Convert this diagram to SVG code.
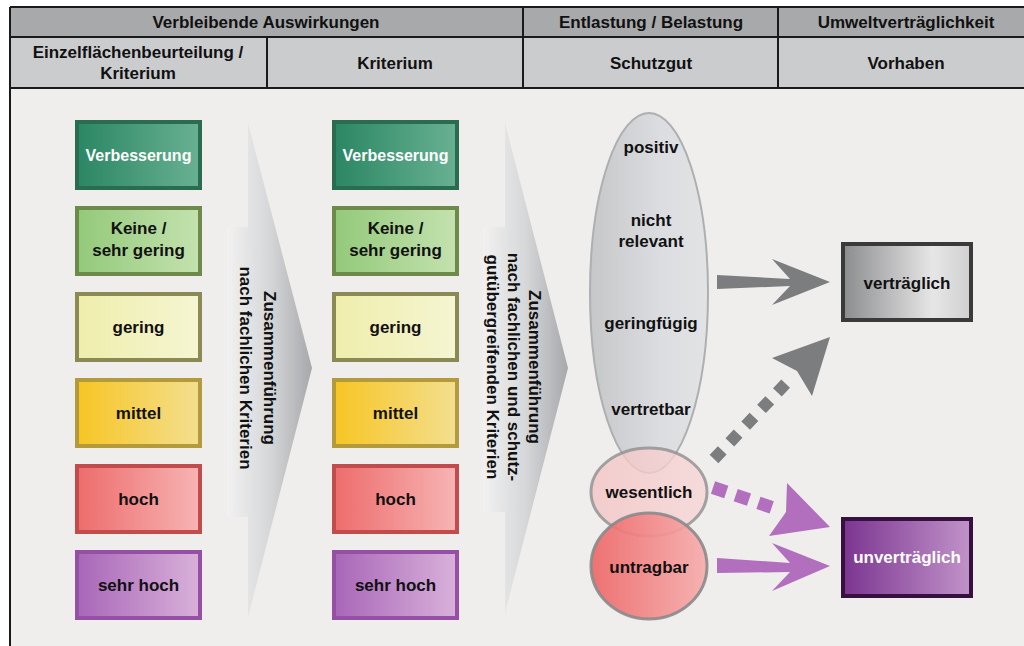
<svg xmlns="http://www.w3.org/2000/svg" width="1024" height="646" viewBox="0 0 1024 646">
<defs>
<style>
.t{font-family:"Liberation Sans",Arial,sans-serif;font-weight:bold;font-size:17px;text-anchor:middle;fill:#111}
.w{fill:#fff}
.hdr1{fill:#a8a9ab}
.hdr2{fill:#cbccce}
.grid{stroke:#1a1a1a;stroke-width:2;fill:none}
.box{stroke-width:4}
</style>
<linearGradient id="gVerb" x1="0" x2="1"><stop offset="0" stop-color="#2b8663"/><stop offset="1" stop-color="#68b192"/></linearGradient>
<linearGradient id="gKeine" x1="0" x2="1"><stop offset="0" stop-color="#93c97a"/><stop offset="1" stop-color="#c4e2af"/></linearGradient>
<linearGradient id="gGering" x1="0" x2="1"><stop offset="0" stop-color="#efeeac"/><stop offset="1" stop-color="#f5f5d2"/></linearGradient>
<linearGradient id="gMittel" x1="0" x2="1"><stop offset="0" stop-color="#f7c523"/><stop offset="1" stop-color="#f3df90"/></linearGradient>
<linearGradient id="gHoch" x1="0" x2="1"><stop offset="0" stop-color="#ee6c6c"/><stop offset="1" stop-color="#f7b4b4"/></linearGradient>
<linearGradient id="gSehr" x1="0" x2="1"><stop offset="0" stop-color="#a866b8"/><stop offset="1" stop-color="#d9b1da"/></linearGradient>
<linearGradient id="gArrow1" gradientUnits="userSpaceOnUse" x1="227" y1="0" x2="312" y2="0"><stop offset="0" stop-color="#f1f1f1"/><stop offset="0.5" stop-color="#d6d7d9"/><stop offset="1" stop-color="#a6a8ab"/></linearGradient>
<linearGradient id="gArrow2" gradientUnits="userSpaceOnUse" x1="483" y1="0" x2="568" y2="0"><stop offset="0" stop-color="#f1f1f1"/><stop offset="0.5" stop-color="#d6d7d9"/><stop offset="1" stop-color="#a6a8ab"/></linearGradient>
<linearGradient id="gEll" x1="0" x2="1"><stop offset="0" stop-color="#c6c7c9"/><stop offset="0.6" stop-color="#dcdde0"/><stop offset="1" stop-color="#e2e3e5"/></linearGradient>
<linearGradient id="gWes" x1="0" x2="1"><stop offset="0" stop-color="#f3c4c4"/><stop offset="1" stop-color="#f7d6d6"/></linearGradient>
<linearGradient id="gUnt" x1="0" x2="1"><stop offset="0" stop-color="#ee6767"/><stop offset="1" stop-color="#f6adad"/></linearGradient>
<linearGradient id="gVer" x1="0" x2="1"><stop offset="0" stop-color="#8b8c8e"/><stop offset="0.7" stop-color="#e6e6e6"/><stop offset="1" stop-color="#d0d0d2"/></linearGradient>
<linearGradient id="gUnv" x1="0" x2="1"><stop offset="0" stop-color="#7b3590"/><stop offset="1" stop-color="#c193c9"/></linearGradient>
</defs>

<rect x="0" y="0" width="1024" height="646" fill="#ffffff"/>
<rect x="10" y="88" width="1014" height="558" fill="#efeeec"/>

<g id="table-header">
<rect class="hdr1" x="10" y="7" width="1014" height="30"/>
<rect class="hdr2" x="10" y="37" width="1014" height="51"/>
<path class="grid" d="M10,7 H1024 M10,37 H1024 M10,88 H1024 M10,7 V646 M267,37 V88 M523,7 V88 M778,7 V88"/>
<text class="t" x="266" y="28">Verbleibende Auswirkungen</text>
<text class="t" x="651" y="28">Entlastung / Belastung</text>
<text class="t" x="906" y="28">Umweltverträglichkeit</text>
<text class="t" x="138" y="58">Einzelflächenbeurteilung /</text>
<text class="t" x="138" y="79">Kriterium</text>
<text class="t" x="395" y="69">Kriterium</text>
<text class="t" x="651" y="69">Schutzgut</text>
<text class="t" x="906" y="69">Vorhaben</text>
</g>

<g id="col1">
<g id="c1-verbesserung"><rect class="box" x="77" y="122" width="123" height="66" fill="url(#gVerb)" stroke="#2a6c4f"/><text class="t w" x="138.5" y="161" style="font-size:16px">Verbesserung</text></g>
<g id="c1-keine"><rect class="box" x="77" y="208" width="123" height="66" fill="url(#gKeine)" stroke="#6e8a4a"/><text class="t" x="138.5" y="234">Keine /</text><text class="t" x="138.5" y="256">sehr gering</text></g>
<g id="c1-gering"><rect class="box" x="77" y="294" width="123" height="66" fill="url(#gGering)" stroke="#8c8a54"/><text class="t" x="138.5" y="333">gering</text></g>
<g id="c1-mittel"><rect class="box" x="77" y="380" width="123" height="66" fill="url(#gMittel)" stroke="#b39a3c"/><text class="t" x="138.5" y="419">mittel</text></g>
<g id="c1-hoch"><rect class="box" x="77" y="466" width="123" height="66" fill="url(#gHoch)" stroke="#c24c4c"/><text class="t" x="138.5" y="505">hoch</text></g>
<g id="c1-sehrhoch"><rect class="box" x="77" y="552" width="123" height="66" fill="url(#gSehr)" stroke="#9550a5"/><text class="t" x="138.5" y="591">sehr hoch</text></g>
</g>

<g id="merge-arrow-1">
<path d="M248,123 L312,368 L248,617 L248,517 L227,517 L227,227 L248,227 Z" fill="url(#gArrow1)"/>
<text class="t" transform="translate(264,368) rotate(90)"><tspan x="0" y="0">Zusammenführung</tspan><tspan x="0" y="24">nach fachlichen Kriterien</tspan></text>
</g>

<g id="col2">
<g id="c2-verbesserung"><rect class="box" x="334" y="122" width="123" height="66" fill="url(#gVerb)" stroke="#2a6c4f"/><text class="t w" x="395.5" y="161" style="font-size:16px">Verbesserung</text></g>
<g id="c2-keine"><rect class="box" x="334" y="208" width="123" height="66" fill="url(#gKeine)" stroke="#6e8a4a"/><text class="t" x="395.5" y="234">Keine /</text><text class="t" x="395.5" y="256">sehr gering</text></g>
<g id="c2-gering"><rect class="box" x="334" y="294" width="123" height="66" fill="url(#gGering)" stroke="#8c8a54"/><text class="t" x="395.5" y="333">gering</text></g>
<g id="c2-mittel"><rect class="box" x="334" y="380" width="123" height="66" fill="url(#gMittel)" stroke="#b39a3c"/><text class="t" x="395.5" y="419">mittel</text></g>
<g id="c2-hoch"><rect class="box" x="334" y="466" width="123" height="66" fill="url(#gHoch)" stroke="#c24c4c"/><text class="t" x="395.5" y="505">hoch</text></g>
<g id="c2-sehrhoch"><rect class="box" x="334" y="552" width="123" height="66" fill="url(#gSehr)" stroke="#9550a5"/><text class="t" x="395.5" y="591">sehr hoch</text></g>
</g>

<g id="merge-arrow-2">
<path d="M505,123 L568,368 L505,613 L505,512 L483,512 L483,227 L505,227 Z" fill="url(#gArrow2)"/>
<text class="t" transform="translate(529,367) rotate(90)"><tspan x="0" y="0">Zusammenführung</tspan><tspan x="0" y="21">nach fachlichen und schutz-</tspan><tspan x="0" y="42">gutübergreifenden Kriterien</tspan></text>
</g>

<g id="schutzgut-ellipse">
<ellipse cx="649" cy="293" rx="59" ry="180" fill="url(#gEll)" stroke="#aeafb1" stroke-width="2"/>
<text class="t" x="651" y="153">positiv</text>
<text class="t" x="651" y="226">nicht</text>
<text class="t" x="651" y="247">relevant</text>
<text class="t" x="651" y="329">geringfügig</text>
<text class="t" x="651" y="415">vertretbar</text>
</g>

<g id="wesentlich">
<ellipse cx="649" cy="492" rx="58" ry="44" fill="url(#gWes)" fill-opacity="0.8" stroke="#8f8f90" stroke-opacity="0.8" stroke-width="3"/>
<text class="t" x="649" y="498">wesentlich</text>
</g>

<g id="untragbar">
<ellipse cx="649" cy="566" rx="58" ry="53" fill="url(#gUnt)" fill-opacity="0.92" stroke="#8a8a8b" stroke-opacity="0.9" stroke-width="3"/>
<text class="t" x="649" y="573">untragbar</text>
</g>

<g id="vertraeglich">
<rect x="843" y="244" width="128" height="76" fill="url(#gVer)" stroke="#3a3a3a" stroke-width="4"/>
<text class="t" x="907" y="289">verträglich</text>
</g>

<g id="unvertraeglich">
<rect x="843" y="519" width="128" height="77" fill="url(#gUnv)" stroke="#36103e" stroke-width="4"/>
<text class="t w" x="907" y="563">unverträglich</text>
</g>

<g id="connectors">
<polygon points="717,275 790,279 772,259 830,282 772,305 790,286 717,289" fill="#7c7d7f"/>
<line x1="714" y1="459" x2="790" y2="379" stroke="#7c7d7f" stroke-width="12" stroke-dasharray="12 11"/>
<polygon points="830,337 772,358 797,371 812,396" fill="#7c7d7f"/>
<line x1="713" y1="487.5" x2="778" y2="509.5" stroke="#b26fbd" stroke-width="13" stroke-dasharray="14 10"/>
<polygon points="830,527 787,483 786,512 769,536" fill="#b26fbd"/>
<polygon points="717,558 790,563 772,543 830,566 772,591 790,572 717,573" fill="#b26fbd"/>
</g>
</svg>
